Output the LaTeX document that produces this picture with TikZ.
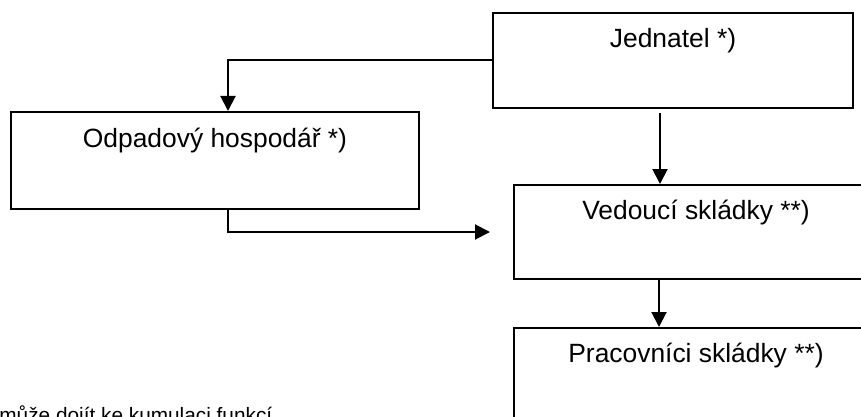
\documentclass[tikz,border=0pt]{standalone}
\usepackage{fontspec}
\setmainfont{Liberation Sans}
\usepackage{tikz}
\usetikzlibrary{arrows.meta}

\tikzset{
  box/.style={draw, line width=1pt, anchor=north west, inner sep=0pt},
  boxtext/.style={inner sep=0pt, font=\fontsize{13.2}{16}\selectfont},
  arr/.style={line width=1pt, -{Triangle[length=7.5pt,width=7.5pt]}}
}

\begin{document}
\begin{tikzpicture}[x=0.5pt,y=-0.5pt]
      \useasboundingbox (0,0) rectangle (861,417);
      \clip (0,0) rectangle (861,417);
      \node[box, minimum width=180pt, minimum height=47.5pt,
        label={[boxtext, below=8.2pt]north:Jednatel *)}] (jed) at (492,12) {};
      \node[box, minimum width=204pt, minimum height=48.5pt,
        label={[boxtext, below=8.2pt]north:Odpadový hospodář *)}] (odp) at (10,111) {};
      \node[box, minimum width=182pt, minimum height=47pt,
        label={[boxtext, below=8pt]north:Vedoucí skládky **)}] (ved) at (513,184) {};
      \node[box, minimum width=182pt, minimum height=48pt,
        label={[boxtext, below=8pt]north:Pracovníci skládky **)}] (pra) at (513,327) {};
      \node[anchor=base west, inner sep=0pt, font=\fontsize{10.4}{12}\selectfont] (pozn) at (-1,422) {může dojít ke kumulaci funkcí};
      \coordinate (vin) at ([xshift=-11.5pt]ved.west);
      \draw[arr] (jed.west) -| ([xshift=6.5pt]odp.north);
      \draw[arr] ([xshift=6.5pt]odp.south) |- (vin);
      \draw[arr] ([xshift=-6.5pt,yshift=-2pt]jed.south) -- ([xshift=-6.5pt]jed.south |- ved.north);
      \draw[arr] ([xshift=-18.5pt]ved.south) -- ([xshift=-18.5pt]pra.north);
\end{tikzpicture}
\end{document}
